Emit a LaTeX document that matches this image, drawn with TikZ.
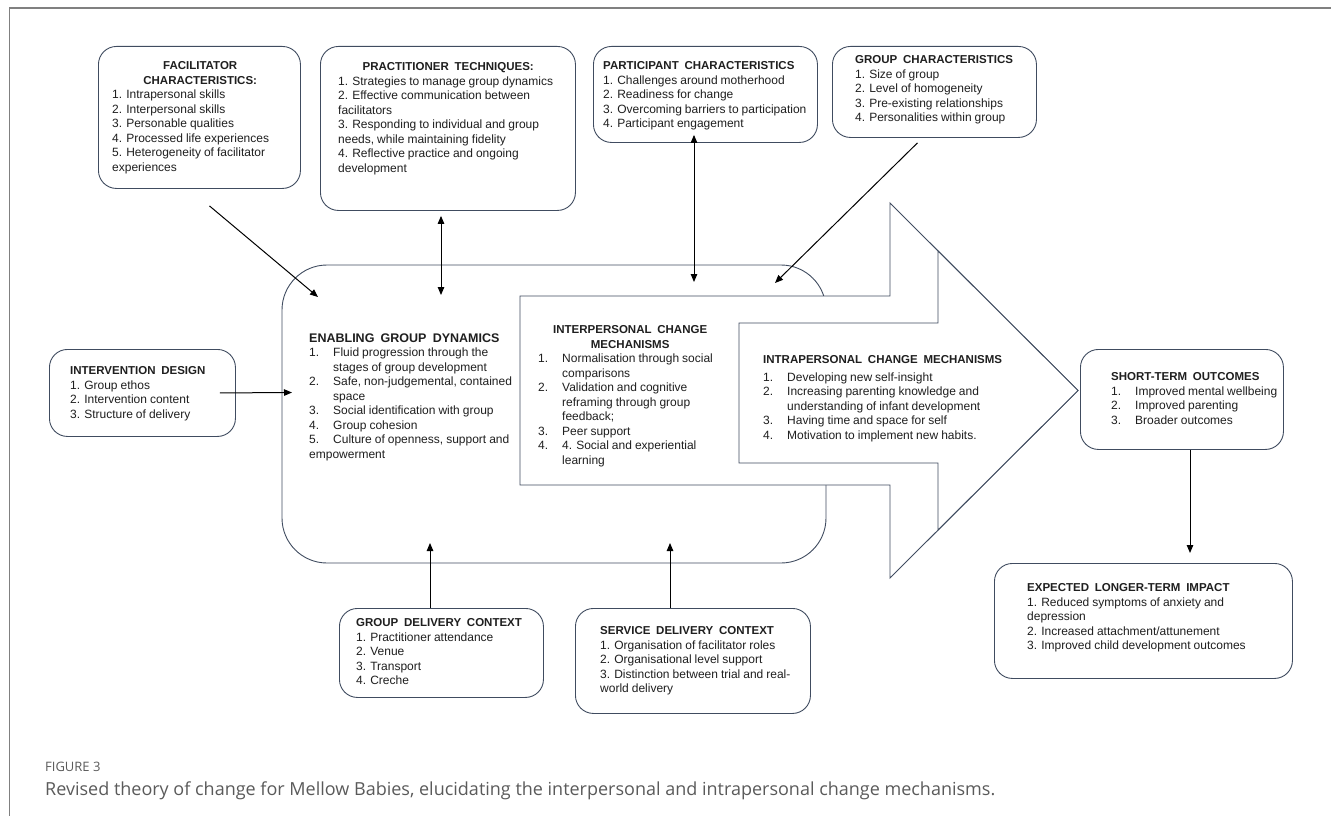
\documentclass[tikz,border=0pt]{standalone}
\usepackage{fontspec}
\setmainfont{Liberation Sans}
\newfontfamily\capfont{Open Sans}
\usepackage{xcolor}
\usepackage{tikz}
\usetikzlibrary{arrows.meta, positioning, calc}

\definecolor{boxline}{RGB}{64,76,96}
\definecolor{capgray}{RGB}{90,90,90}
\newcommand{\bodyfont}{\fontsize{12}{14.5}\selectfont\spaceskip=0.25em\relax}
\newcommand{\hdr}[1]{{\bfseries\fontsize{11.5}{14.5}\selectfont\spaceskip=0.5em\relax #1}}
\newcommand{\itemno}[1]{\makebox[24pt][l]{#1}}

\begin{document}
\begin{tikzpicture}[
	  x=1pt, y=-1pt,
	  box/.style={
	    draw=boxline,
	    line width=0.9pt,
	    rounded corners=18pt,
	    anchor=north west,
	    fill=white
	  },
	  zone/.style={draw=boxline, line width=0.9pt, fill=white},
	  txt/.style={anchor=north west, inner sep=0pt, align=left, font=\bodyfont, text=black!88},
	  arrow/.style={-{Triangle[length=8pt,width=6.5pt]}, line width=1pt},
	  dblarrow/.style={{Triangle[length=8pt,width=6.5pt]}-{Triangle[length=8pt,width=6.5pt]}, line width=1pt},
	  frame/.style={draw=black!50}
	]
	\useasboundingbox (0,0) rectangle (1331,816);
	
	% Page frame
	\draw[frame, line width=1.6pt] (9,8) -- (1331,8);
	\draw[frame, line width=0.8pt] (9,8) -- (9,816);
	
	% Central areas
	\draw[zone, rounded corners=45pt] (282,265) rectangle (826,563);
	\draw[zone] (520,296) -- (890,296) -- (890,203) -- (1078,390.5)
	  -- (890,578) -- (890,485) -- (520,485) -- cycle;
	\draw[zone] (739,323) -- (938,323) -- (938,251) -- (1078,390.5)
	  -- (938,530) -- (938,463) -- (739,463) -- cycle;
	
	% Boxes
	\node[box, minimum width=202pt, minimum height=142pt] (facbox) at (98,46) {};
	\node[box, minimum width=255pt, minimum height=164pt] (pracbox) at (320,46) {};
	\node[box, minimum width=224pt, minimum height=96pt] (partbox) at (593,46) {};
	\node[box, minimum width=204pt, minimum height=91pt] (grpbox) at (832,46) {};
	\node[box, minimum width=186pt, minimum height=87pt] (intvbox) at (49,349) {};
	\node[box, minimum width=203pt, minimum height=100pt] (shortbox) at (1080,349) {};
	\node[box, minimum width=298pt, minimum height=115pt] (expbox) at (994,563) {};
	\node[box, minimum width=204pt, minimum height=89pt] (gdelbox) at (339,608) {};
	\node[box, minimum width=235pt, minimum height=105pt] (sdelbox) at (575,608) {};
	
	% Texts
	\node[txt] (factxt) at (112,61.5) {\makebox[176pt][c]{\hdr{FACILITATOR}}\\
	  \makebox[176pt][c]{\hdr{CHARACTERISTICS:}}\\
	  1. Intrapersonal skills\\
	  2. Interpersonal skills\\
	  3. Personable qualities\\
	  4. Processed life experiences\\
	  5. Heterogeneity of facilitator\\
	  experiences};
	
	\node[txt] (practxt) at (338,62.5) {\makebox[220pt][c]{\hdr{PRACTITIONER TECHNIQUES:}}\\
	  1. Strategies to manage group dynamics\\
	  2. Effective communication between\\
	  facilitators\\
	  3. Responding to individual and group\\
	  needs, while maintaining fidelity\\
	  4. Reflective practice and ongoing\\
	  development};
	
	\node[txt] (parttxt) at (603,61.5) {\hdr{PARTICIPANT CHARACTERISTICS}\\
	  1. Challenges around motherhood\\
	  2. Readiness for change\\
	  3. Overcoming barriers to participation\\
	  4. Participant engagement};
	
	\node[txt] (grptxt) at (855,55.5) {\hdr{GROUP CHARACTERISTICS}\\
	  1. Size of group\\
	  2. Level of homogeneity\\
	  3. Pre-existing relationships\\
	  4. Personalities within group};
	
	\node[txt] (intvtxt) at (70,366.5) {\hdr{INTERVENTION DESIGN}\\
	  1. Group ethos\\
	  2. Intervention content\\
	  3. Structure of delivery};
	
	\node[txt] (enabtxt) at (309,333.5) {{\bfseries\fontsize{12.5}{15}\selectfont\spaceskip=0.5em\relax ENABLING GROUP DYNAMICS}\\
	  \itemno{1.}Fluid progression through the\\
	  \itemno{}stages of group development\\
	  \itemno{2.}Safe, non-judgemental, contained\\
	  \itemno{}space\\
	  \itemno{3.}Social identification with group\\
	  \itemno{4.}Group cohesion\\
	  \itemno{5.}Culture of openness, support and\\
	  empowerment};
	
	\node[txt] (intertxt) at (538,325.5) {\makebox[184pt][c]{\hdr{INTERPERSONAL CHANGE}}\\
	  \makebox[184pt][c]{\hdr{MECHANISMS}}\\
	  \itemno{1.}Normalisation through social\\
	  \itemno{}comparisons\\
	  \itemno{2.}Validation and cognitive\\
	  \itemno{}reframing through group\\
	  \itemno{}feedback;\\
	  \itemno{3.}Peer support\\
	  \itemno{4.}4. Social and experiential\\
	  \itemno{}learning};
	
	\node[txt] (intratxt) at (763,355.5) {\hdr{INTRAPERSONAL CHANGE MECHANISMS}\\[3pt]
	  \itemno{1.}Developing new self-insight\\
	  \itemno{2.}Increasing parenting knowledge and\\
	  \itemno{}understanding of infant development\\
	  \itemno{3.}Having time and space for self\\
	  \itemno{4.}Motivation to implement new habits.};
	
	\node[txt] (shorttxt) at (1111,372.5) {\hdr{SHORT-TERM OUTCOMES}\\
	  \itemno{1.}Improved mental wellbeing\\
	  \itemno{2.}Improved parenting\\
	  \itemno{3.}Broader outcomes};
	
	\node[txt] (exptxt) at (1027,583.5) {\hdr{EXPECTED LONGER-TERM IMPACT}\\
	  1. Reduced symptoms of anxiety and\\
	  depression\\
	  2. Increased attachment/attunement\\
	  3. Improved child development outcomes};
	
	\node[txt] (gdeltxt) at (356,618.5) {\hdr{GROUP DELIVERY CONTEXT}\\
	  1. Practitioner attendance\\
	  2. Venue\\
	  3. Transport\\
	  4. Creche};
	
	\node[txt] (sdeltxt) at (600,626.5) {\hdr{SERVICE DELIVERY CONTEXT}\\
	  1. Organisation of facilitator roles\\
	  2. Organisational level support\\
	  3. Distinction between trial and real-\\
	  world delivery};
	
	% Arrow ends inside the central areas
	\coordinate (facin) at (318,297);
	\coordinate (pracin) at (441,295);
	\coordinate (partin) at (694,282);
	\coordinate (grpin) at (775,283);
	\coordinate (intvin) at (292,392.5);
	\coordinate (gdelin) at (430,543);
	\coordinate (sdelin) at (670,543);
	\coordinate (expin) at (1190,553);
	
	% Connectors
	\draw[arrow] ([shift={(10,17)}]facbox.south) -- (facin);
	\draw[dblarrow] ([yshift=-5pt]pracin |- pracbox.south) -- (pracin);
	\draw[dblarrow] ([yshift=8pt]partin |- partbox.south) -- (partin);
	\draw[arrow] ([shift={(-17,5)}]grpbox.south) -- (grpin);
	\draw[arrow] ([xshift=-16pt]intvbox.east) -- (intvin);
	\draw[arrow] (gdelin |- gdelbox.north) -- (gdelin);
	\draw[arrow] (sdelin |- sdelbox.north) -- (sdelin);
	\draw[arrow] (expin |- shortbox.south) -- (expin);
	
	% Caption
	\node[anchor=west, inner sep=0pt, font=\capfont\fontsize{13}{15}\selectfont, text=capgray] (figlabel) at (45,767) {FIGURE 3};
	\node[anchor=west, inner sep=0pt, font=\capfont\fontsize{18}{21}\selectfont, text=capgray] (caption) at (45,791) {Revised theory of change for Mellow Babies, elucidating the interpersonal and intrapersonal change mechanisms.};
	
\end{tikzpicture}
\end{document}
